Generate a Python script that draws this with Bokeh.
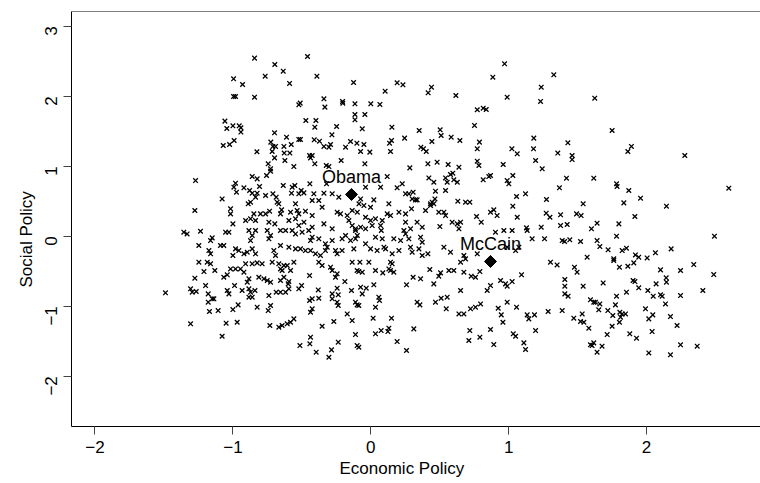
import math
from bokeh.plotting import figure
from bokeh.models import FixedTicker, Span, Title
from bokeh.core.properties import value
from bokeh.embed import file_html
from bokeh.resources import INLINE

# ---------------- data ----------------
respondents = [
    # upper-left
    (-0.843,2.544),(-0.459,2.567),(-0.696,2.453),(-0.635,2.358),(-0.995,2.248),(-0.930,2.167),(-0.766,2.286),(-0.589,2.182),(-0.391,2.286),(-0.125,2.196),
    (-0.995,1.996),(-0.981,1.996),(-0.843,1.986),(-0.522,1.877),(-0.512,1.901),(-0.340,1.963),(-0.333,1.844),(-0.205,1.925),(-0.203,1.901),(-0.115,1.891),
    (-0.115,1.739),(-0.115,1.663),(-1.058,1.644),(-1.044,1.539),(-1.000,1.577),(-0.954,1.577),(-0.942,1.549),(-0.942,1.487),(-0.471,1.653),(-0.398,1.653),
    (-0.406,1.558),(-0.248,1.567),(-0.282,1.448),(-0.698,1.477),(-0.611,1.415),(-0.522,1.382),(-0.510,1.382),(-0.410,1.377),(-0.372,1.358),(-0.340,1.282),
    (-0.304,1.272),(-0.292,1.310),(-0.183,1.272),(-0.147,1.353),(-0.101,1.329),(-1.070,1.296),(-1.024,1.310),(-0.991,1.367),(-0.725,1.344),(-0.710,1.282),
    (-0.691,1.282),(-0.630,1.282),(-0.577,1.310),(-0.826,1.206),(-0.715,1.210),(-0.628,1.187),(-0.587,1.187),(-0.444,1.153),(-0.425,1.153),
    # upper-middle
    (0.970,2.463),(0.885,2.272),(1.327,2.305),(0.104,2.072),(0.191,2.191),(0.233,2.163),(0.416,2.048),(0.440,2.129),(0.617,2.010),(0.989,1.986),
    (1.236,2.129),(1.231,1.925),(0.000,1.891),(0.066,1.882),(-0.043,1.739),(-0.062,1.534),(0.772,1.806),(0.815,1.829),(0.837,1.810),(0.752,1.582),
    (0.153,1.558),(0.351,1.510),(0.503,1.520),(0.510,1.439),(0.583,1.415),(0.646,1.367),(0.245,1.401),(0.443,1.353),(0.136,1.329),(0.150,1.367),
    (0.143,1.210),(0.363,1.272),(0.382,1.248),(0.402,1.210),(0.788,1.344),(0.772,1.248),(1.182,1.401),(1.180,1.248),(1.023,1.248),(1.062,1.177),
    (-0.050,1.310),(-0.074,1.210),(-0.007,1.201),
    # upper-right
    (1.624,1.972),(1.750,1.510),(1.429,1.334),(1.356,1.187),(1.460,1.153),(1.890,1.282),(1.864,1.210),(2.277,1.153),
    # middle-left
    (-0.215,1.081),(-0.744,1.034),(-0.727,0.962),(-0.756,0.867),(-0.727,0.929),(-0.698,1.119),(-0.623,1.081),(-0.558,0.995),(-0.437,1.119),(-0.406,1.034),
    (-0.323,1.010),(-0.304,0.995),(-1.271,0.795),(-0.860,0.853),(-0.824,0.819),(-0.981,0.757),(-0.993,0.700),(-0.920,0.691),(-0.974,0.629),(-0.879,0.653),
    (-0.860,0.615),(-0.824,0.615),(-0.807,0.710),(-0.836,0.557),(-0.872,0.486),(-0.889,0.462),(-0.763,0.581),(-0.710,0.605),(-0.686,0.557),(-0.679,0.486),
    (-0.667,0.462),(-0.635,0.724),(-0.570,0.700),(-0.551,0.724),(-0.505,0.653),(-0.485,0.619),(-0.575,0.615),(-0.522,0.605),(-0.442,0.748),(-0.413,0.605),
    (-0.425,0.510),(-0.377,0.510),(-0.340,0.615),(-0.321,0.748),(-0.280,0.605),(-0.232,0.557),(-0.546,0.462),(-1.078,0.533),(-1.276,0.367),(-1.017,0.391),
    (-1.017,0.319),(-1.000,0.176),(-0.908,0.224),(-0.872,0.248),(-0.848,0.319),(-0.836,0.224),(-0.800,0.319),(-0.763,0.319),(-0.734,0.357),(-0.739,0.200),
    (-0.696,0.176),(-0.647,0.376),(-0.655,0.319),(-0.582,0.343),(-0.534,0.367),(-0.522,0.319),(-0.474,0.357),(-0.425,0.295),(-0.594,0.224),(-0.546,0.248),
    (-0.522,0.152),(-0.485,0.200),(-0.353,0.414),(-0.244,0.343),(-0.220,0.319),(-0.171,0.295),(-0.159,0.224),(-0.135,0.152),(-0.111,0.081),(-0.340,0.176),
    (-0.280,0.105),(-0.425,0.129),(-1.356,0.057),(-1.332,0.033),(-1.235,0.071),(-1.053,0.057),(-1.029,0.057),(-0.884,0.081),(-0.836,0.081),(-0.860,0.010),
    (-0.872,-0.062),(-0.751,0.081),(-0.727,0.010),(-0.739,-0.038),(-0.655,0.081),(-0.618,0.081),(-0.570,0.081),(-0.546,0.033),(-0.498,0.057),(-0.450,0.081),
    (-0.425,-0.014),(-0.437,-0.062),(-0.377,-0.038),(-0.329,-0.109),(-0.316,-0.157),(-0.280,-0.062),(-0.208,-0.038),(-0.183,0.010),(-0.147,-0.062),(-0.111,-0.038),
    (-1.247,-0.133),(-1.162,-0.062),(-1.150,-0.024),(-1.090,-0.133),(-1.066,-0.133),(-0.981,-0.181),(-0.957,-0.205),(-1.000,-0.276),(-0.920,-0.252),(-0.896,-0.228),
    (-0.860,-0.181),(-0.836,-0.252),(-1.174,-0.205),(-1.162,-0.252),(-0.703,-0.205),(-0.655,-0.133),(-0.691,-0.276),(-0.594,-0.157),(-0.546,-0.181),(-0.510,-0.181),
    (-0.474,-0.205),(-0.437,-0.205),(-0.401,-0.252),(-0.365,-0.276),(-0.329,-0.205),(-0.256,-0.205),(-0.208,-0.205),(-0.244,-0.252),
    # middle-centre
    (-0.043,1.034),(0.283,0.976),(0.414,1.034),(0.481,1.057),(0.561,1.024),(0.639,0.986),(0.595,0.900),(0.578,0.881),(0.772,1.072),(0.784,1.010),
    (0.960,1.024),(1.195,1.081),(1.243,0.962),(0.119,0.852),(0.421,0.833),(0.457,0.771),(0.542,0.833),(0.554,0.771),(0.602,0.805),(0.627,0.771),
    (0.815,0.805),(0.856,0.852),(0.868,0.867),(0.989,0.795),(1.001,0.748),(1.030,0.867),(0.071,0.700),(0.191,0.691),(0.228,0.748),(-0.038,0.700),
    (0.252,0.605),(0.276,0.605),(0.307,0.629),(0.300,0.533),(0.324,0.519),(0.336,0.519),(0.469,0.643),(0.542,0.653),(0.465,0.533),(0.445,0.486),
    (0.433,0.462),(0.631,0.500),(0.687,0.486),(0.718,0.486),(1.057,0.567),(1.122,0.605),(1.274,0.524),(1.030,0.429),(-0.074,0.533),
    (0.022,0.519),(-0.086,0.462),(-0.050,0.438),(-0.002,0.414),(-0.098,0.343),(-0.135,0.367),(0.131,0.462),(0.119,0.319),(0.143,0.295),(0.204,0.343),
    (0.252,0.319),(0.295,0.391),(0.397,0.367),(0.433,0.438),(0.457,0.462),(0.493,0.343),(0.530,0.343),(0.542,0.295),(0.767,0.281),(0.801,0.200),
    (0.868,0.343),(0.892,0.376),(0.916,0.295),(1.062,0.271),(1.272,0.329),(1.299,0.271),(-0.038,0.271),(-0.002,0.224),(0.034,0.248),(0.083,0.224),
    (-0.074,0.129),(-0.111,0.105),(-0.038,0.105),(-0.098,0.010),(0.010,0.152),(0.071,0.152),(0.076,0.081),(0.252,0.200),(0.240,0.081),(0.252,0.033),
    (0.288,0.105),(0.336,0.200),(0.373,0.129),(0.501,0.138),(0.590,0.200),(0.627,0.176),(0.639,0.105),(0.651,0.200),(0.904,0.057),(0.965,0.081),
    (1.025,0.081),(1.129,0.119),(1.134,0.081),(1.170,-0.038),(1.236,0.129),(1.260,-0.038),(0.034,-0.014),(0.083,-0.038),(0.167,-0.038),(0.216,-0.062),
    (0.276,-0.038),(0.361,-0.014),(0.373,-0.086),(-0.123,-0.181),(-0.038,-0.109),(-0.002,-0.181),(0.046,-0.205),(0.095,-0.157),(0.107,-0.181),(0.155,-0.252),
    (0.204,-0.205),(0.288,-0.157),(0.300,-0.228),(0.349,-0.181),(0.373,-0.276),(0.414,-0.252),(0.530,-0.157),(0.578,-0.228),(0.675,-0.276),(0.772,-0.252),
    (0.989,-0.157),(1.050,-0.205),(1.074,-0.157),
    # middle-right
    (1.460,1.095),(1.419,0.829),(1.617,0.829),(1.368,0.691),(1.782,0.748),(1.786,0.710),(1.871,0.653),(1.956,0.543),(2.596,0.686),(1.540,0.462),
    (1.835,0.476),(2.144,0.429),(1.376,0.305),(1.492,0.319),(1.525,0.295),(1.376,0.152),(1.424,0.167),(1.641,0.186),(1.600,0.105),(1.799,0.176),
    (1.915,0.281),(1.782,0.000),(2.492,0.000),(1.388,-0.062),(1.405,-0.076),(1.443,-0.052),(1.521,-0.076),(1.641,-0.062),(1.661,-0.148),(1.721,-0.195),
    (1.823,-0.205),(1.854,-0.171),(1.919,-0.267),(1.943,-0.300),(2.004,-0.310),(2.064,-0.238),(2.178,-0.181),(1.569,-0.300),(1.762,-0.324),
    # lower-left
    (-1.247,-0.371),(-1.186,-0.371),(-1.162,-0.395),(-1.210,-0.505),(-1.131,-0.490),(-0.981,-0.467),(-1.017,-0.467),(-0.945,-0.467),(-0.908,-0.395),(-0.920,-0.514),
    (-1.066,-0.586),(-1.041,-0.552),(-0.860,-0.395),(-0.824,-0.381),(-0.788,-0.395),(-0.715,-0.371),(-0.667,-0.395),(-0.655,-0.467),(-0.643,-0.490),(-0.630,-0.419),
    (-0.606,-0.419),(-0.582,-0.490),(-0.558,-0.371),(-0.377,-0.371),(-0.353,-0.419),(-0.292,-0.443),(-0.280,-0.490),(-0.244,-0.538),(-0.256,-0.586),(-0.135,-0.371),
    (-0.099,-0.490),(-0.444,-0.562),(-1.276,-0.600),(-0.884,-0.609),(-0.896,-0.657),(-0.812,-0.586),(-0.775,-0.609),(-0.751,-0.633),(-0.727,-0.657),(-0.655,-0.633),
    (-0.630,-0.586),(-0.594,-0.648),(-0.599,-0.681),(-0.522,-0.752),(-0.502,-0.705),(-0.188,-0.648),(-0.244,-0.743),(-1.489,-0.809),(-1.307,-0.752),(-1.295,-0.800),
    (-1.266,-0.790),(-1.198,-0.705),(-1.179,-0.824),(-1.150,-0.895),(-1.138,-0.895),(-1.179,-0.943),(-1.170,-1.076),(-1.107,-1.062),(-1.041,-0.776),(-1.029,-0.824),
    (-0.988,-0.705),(-0.933,-0.776),(-0.884,-0.752),(-0.872,-0.800),(-0.840,-0.776),(-0.884,-0.871),(-0.860,-0.871),(-0.824,-1.014),(-1.000,-1.048),(-0.962,-0.981),
    (-0.739,-0.848),(-0.727,-0.990),(-0.744,-1.062),(-0.686,-0.800),(-0.655,-0.800),(-0.618,-0.800),(-0.594,-0.752),(-0.444,-0.919),(-0.425,-0.895),(-0.377,-0.886),
    (-0.437,-1.086),(-0.425,-1.038),(-0.381,-0.767),(-0.280,-0.824),(-0.236,-0.838),(-0.280,-0.895),(-0.244,-0.943),(-0.236,-0.990),(-0.140,-0.776),(-0.111,-0.943),
    (-0.099,-0.981),(-0.171,-1.110),(-0.135,-1.205),(-1.307,-1.252),(-1.049,-1.243),(-0.969,-1.229),(-1.078,-1.429),(-0.732,-1.276),(-0.667,-1.300),(-0.643,-1.276),
    (-0.606,-1.252),(-0.582,-1.229),(-0.558,-1.181),(-0.353,-1.286),(-0.268,-1.219),(-0.111,-1.405),(-0.099,-1.562),(-0.437,-1.443),(-0.442,-1.538),(-0.514,-1.562),
    (-0.396,-1.657),(-0.304,-1.729),(-0.285,-1.624),(-0.236,-1.514),
    # lower-centre
    (-0.079,-0.371),(-0.014,-0.371),(0.143,-0.371),(0.155,-0.395),(-0.087,-0.505),(-0.062,-0.514),(0.034,-0.490),(0.087,-0.524),(0.131,-0.467),(0.143,-0.490),
    (0.167,-0.514),(0.428,-0.476),(0.506,-0.524),(0.493,-0.571),(0.457,-0.681),(0.566,-0.490),(0.602,-0.490),(0.651,-0.371),(0.687,-0.324),(0.675,-0.514),
    (0.728,-0.571),(0.759,-0.586),(0.791,-0.505),(0.307,-0.586),(0.361,-0.609),(0.259,-0.695),(-0.074,-0.728),(-0.033,-0.743),(0.022,-0.695),
    (-0.062,-0.824),(0.058,-0.871),(0.063,-0.919),(0.034,-1.014),(-0.087,-0.990),(0.336,-0.943),(0.356,-0.981),(0.469,-0.943),(0.510,-0.886),(0.554,-0.871),
    (0.547,-1.038),(0.651,-0.776),(0.844,-0.776),(0.868,-0.705),(0.941,-0.633),(0.977,-0.681),(0.989,-0.714),(1.025,-0.648),(1.093,-0.552),(1.303,-0.371),
    (0.639,-1.110),(0.675,-1.110),(0.723,-1.038),(0.759,-1.014),(0.796,-0.967),(0.924,-1.029),(0.946,-1.124),(0.958,-1.229),(0.989,-0.943),(1.057,-1.014),
    (1.134,-1.124),(1.146,-1.181),(1.187,-1.124),(1.286,-1.076),(0.017,-1.171),(0.150,-1.171),(0.034,-1.395),(0.075,-1.348),(0.124,-1.362),(0.131,-1.314),
    (-0.087,-1.586),(0.312,-1.324),(0.191,-1.505),(0.259,-1.633),(0.718,-1.348),(0.711,-1.490),(0.791,-1.443),(0.868,-1.333),(0.892,-1.548),(1.033,-1.395),
    (1.050,-1.429),(1.110,-1.524),(1.122,-1.619),(1.195,-1.348),
    # lower-right
    (1.351,-0.410),(1.762,-0.348),(1.803,-0.443),(1.864,-0.429),(1.907,-0.381),(1.477,-0.443),(1.496,-0.514),(2.101,-0.481),(2.246,-0.490),(2.342,-0.405),
    (2.487,-0.548),(1.407,-0.619),(1.407,-0.714),(1.407,-0.824),(1.431,-0.857),(1.540,-0.714),(1.685,-0.667),(1.902,-0.633),(1.915,-0.648),(1.943,-0.738),
    (1.854,-0.800),(1.782,-0.857),(2.009,-0.776),(2.048,-0.857),(2.069,-0.681),(2.101,-0.838),(2.113,-0.857),(2.137,-0.967),(2.142,-0.595),(2.144,-0.657),
    (2.246,-0.848),(2.408,-0.776),(1.388,-1.062),(1.593,-0.909),(1.617,-0.943),(1.629,-0.943),(1.661,-0.967),(1.653,-1.052),(1.472,-1.171),(1.521,-1.219),
    (1.533,-1.110),(1.545,-1.229),(1.581,-1.314),(1.719,-1.062),(1.755,-1.133),(1.774,-0.981),(1.750,-1.286),(1.806,-1.086),(1.823,-1.110),(1.847,-1.110),
    (1.811,-1.157),(1.803,-1.229),(1.714,-1.405),(1.992,-1.038),(2.016,-1.181),(2.045,-1.124),(2.173,-1.148),(2.221,-1.276),(2.040,-1.362),(1.878,-1.395),
    (1.927,-1.457),(1.593,-1.552),(1.617,-1.524),(1.605,-1.562),(1.641,-1.657),(1.677,-1.571),(2.016,-1.667),(2.173,-1.695),(2.246,-1.552),(2.367,-1.571),
]
economic = [p[0] for p in respondents]
social = [p[1] for p in respondents]

candidates = ["Obama", "McCain"]
cand_economic = [-0.140, 0.868]
cand_social = [0.596, -0.361]

x_ticks = [-2, -1, 0, 1, 2]
y_ticks = [-2, -1, 0, 1, 2, 3]
x_title = "Economic Policy"
y_title = "Social Policy"

# ---------------- figure ----------------
X0, X1 = -2.1704, 2.8260
Y0, Y1 = -2.7186, 3.2100
FONT = "Liberation Sans"

p = figure(width=760, height=483, x_range=(X0, X1), y_range=(Y0, Y1),
           output_backend="svg", toolbar_location=None,
           min_border_left=71, min_border_right=0, min_border_top=11, min_border_bottom=57)
p.grid.visible = False
p.outline_line_color = None
p.background_fill_color = "white"
p.border_fill_color = "white"

for ax, ticks in ((p.xaxis, x_ticks), (p.yaxis, y_ticks)):
    ax.ticker = FixedTicker(ticks=ticks)
    ax.major_label_overrides = {t: str(t).replace("-", "\u2212") for t in ticks}
    ax.minor_tick_line_color = None
    ax.major_tick_in = 0
    ax.major_tick_out = 8
    ax.major_tick_line_color = "#444444"
    ax.axis_line_color = "black"
    ax.axis_line_width = 1
    ax.major_label_text_font = FONT
    ax.major_label_text_font_size = "17px"
    ax.major_label_text_color = "black"

p.xaxis.major_label_standoff = 6
p.yaxis.major_label_standoff = 12
p.yaxis.major_label_orientation = math.pi / 2

p.add_layout(Span(location=Y1, dimension="width", line_color="black", line_width=1))

p.scatter(economic, social, marker="x", size=6.5, line_color="black", line_width=1.3)

p.scatter(cand_economic, cand_social, marker="square", size=8.5, angle=math.pi / 4,
          fill_color="black", line_color="black")
p.text(cand_economic, cand_social, text=candidates, text_align="center",
       text_baseline="alphabetic", y_offset=-17, text_font=value(FONT),
       text_font_size="18px", text_color="black")

p.add_layout(Title(text=x_title, align="left", offset=268, text_font=FONT,
                   text_font_size="17px", text_font_style="normal",
                   text_color="black", standoff=2), "below")
p.add_layout(Title(text=y_title, align="left", offset=139, text_font=FONT,
                   text_font_size="17px", text_font_style="normal",
                   text_color="black", standoff=2), "left")

open("out.html", "w").write(file_html(p, INLINE))
